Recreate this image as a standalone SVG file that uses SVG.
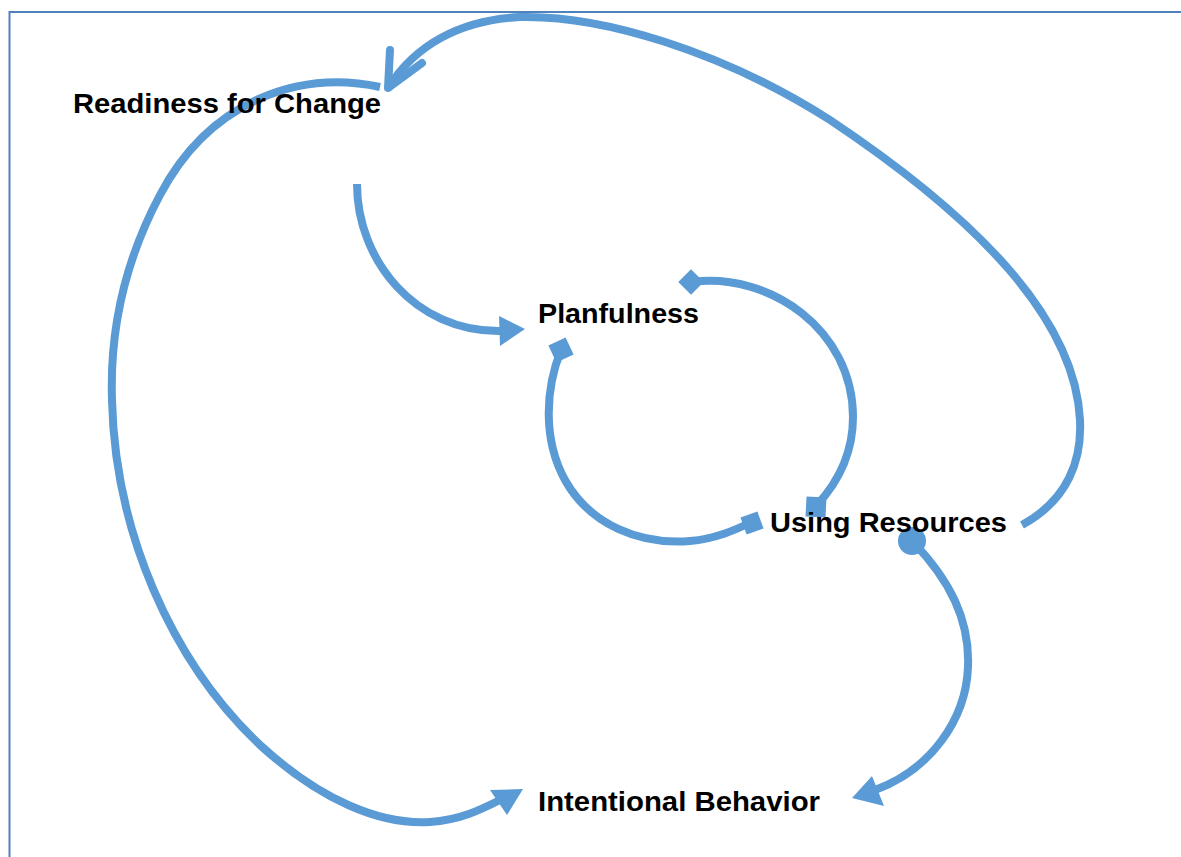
<svg xmlns="http://www.w3.org/2000/svg" width="1181" height="857" viewBox="0 0 1181 857">
<style>
.lbl{font-family:"Liberation Sans",Arial,sans-serif;font-weight:bold;font-size:28px;fill:#000}
.c{fill:none;stroke:#5b9bd5;stroke-width:8}
.h{fill:#5b9bd5;stroke:none}
</style>
<rect width="1181" height="857" fill="#fff"/>
<path d="M9.5,857 V12 H1181" fill="none" stroke="#4f81bd" stroke-width="2"/>
<g id="connectors">
  <path class="c" d="M357,184 C357,260 415,332 500,331"/>
  <polygon class="h" points="525,329 499,316 500,346"/>
  <path class="c" d="M692,282 C770,272 853,330 853,417 C853,450 840,480 817,505"/>
  <rect class="h" x="-9" y="-9" width="18" height="18" transform="translate(691,282) rotate(45)"/>
  <rect class="h" x="-10" y="-10" width="20" height="20" transform="translate(816,507) rotate(3)"/>
  <path class="c" d="M561,350 C545,390 543,440 565,480 C590,525 640,545 690,541 C715,539 735,530 752,522"/>
  <rect class="h" x="-9.5" y="-9.5" width="19" height="19" transform="translate(561,350) rotate(-25)"/>
  <rect class="h" x="-9" y="-9" width="18" height="18" transform="translate(752,523) rotate(-20)"/>
  <path class="c" d="M1022,525 C1068,500 1082,460 1080,420 C1075,320 980,220 830,120 C720,50 600,15 520,17 C460,20 415,45 388,88"/>
  <path class="c" stroke-linecap="round" stroke-linejoin="round" d="M390,50 L388,88 L422,63"/>
  <path class="c" d="M380,87 C300,70 210,100 160,195 C120,270 110,340 112,400 C115,530 170,660 260,745 C320,800 380,825 430,822 C460,820 480,810 500,800"/>
  <polygon class="h" points="523,789 490,790 507,815"/>
  <circle class="h" cx="912" cy="541" r="14"/>
  <path class="c" d="M912,541 C950,580 970,620 968,667 C966,720 930,770 875,790"/>
  <polygon class="h" points="852,798 872,776 884,806"/>
</g>
<g id="node-readiness"><text class="lbl" x="73" y="113" textLength="308" lengthAdjust="spacingAndGlyphs">Readiness for Change</text></g>
<g id="node-planfulness"><text class="lbl" x="538" y="323" textLength="161" lengthAdjust="spacingAndGlyphs">Planfulness</text></g>
<g id="node-using"><text class="lbl" x="770" y="532" textLength="237" lengthAdjust="spacingAndGlyphs">Using Resources</text></g>
<g id="node-intentional"><text class="lbl" x="538" y="811" textLength="282" lengthAdjust="spacingAndGlyphs">Intentional Behavior</text></g>
</svg>
